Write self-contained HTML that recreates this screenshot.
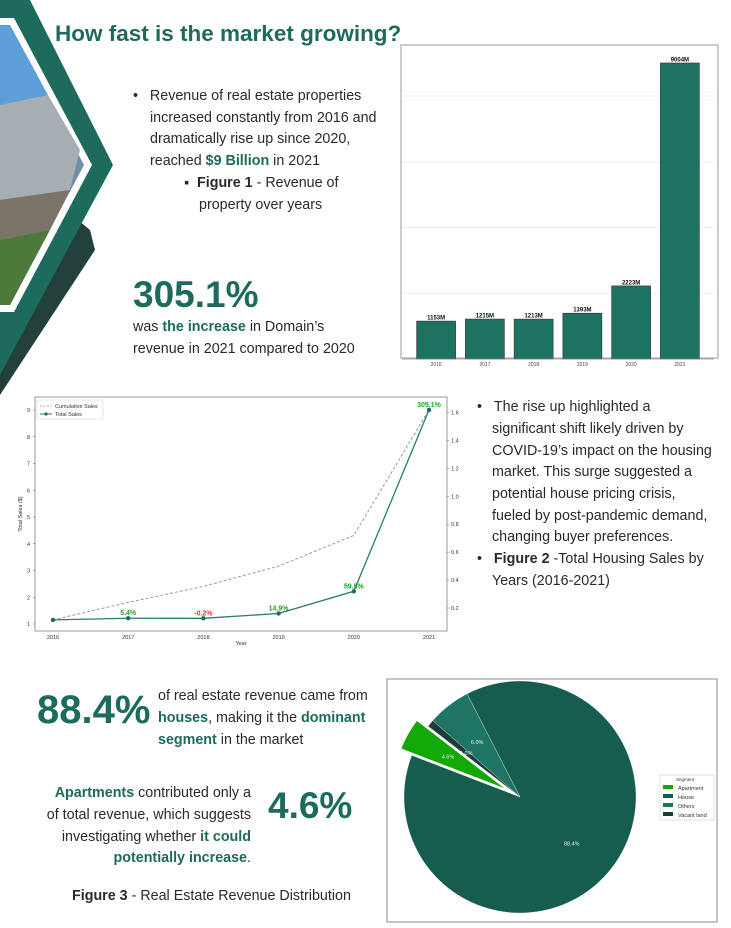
<!DOCTYPE html>
<html><head><meta charset="utf-8">
<style>
body{margin:0;width:731px;height:928px;background:#fff;position:relative;overflow:hidden;font-family:"Liberation Sans",sans-serif;color:#222}
.t{position:absolute;white-space:nowrap;font-size:14.3px;line-height:21.7px;color:#2a2a2a}
.g{color:#1d6b5c;font-weight:bold}
.big{position:absolute;color:#1d6b5c;font-weight:bold;white-space:nowrap}
svg{position:absolute;left:0;top:0}
</style></head><body>
<svg width="731" height="928">
  <polygon points="0,395 0,285 60,205 90,230 95,250" fill="#24403b"/>
  <polygon points="0,0 30,0 113,165 0,375" fill="#1d6b5c"/>
  <polygon points="0,18 14,18 92,165 14,312 0,312" fill="#fff"/>
  <polygon points="0,25 10,25 84,165 10,305 0,305" fill="#6d8fa8"/>
  <polygon points="0,25 10,25 48,95 0,105" fill="#5f9fd9"/>
  <polygon points="0,105 48,95 80,150 70,190 0,200" fill="#a6adb3"/>
  <polygon points="0,200 70,190 50,230 0,240" fill="#7b7468"/>
  <polygon points="0,240 50,230 10,305 0,305" fill="#4d7a3a"/>
</svg>
<div class="big" style="left:55px;top:21px;font-size:22.5px">How fast is the market growing?</div>

<div class="t" style="left:133px;top:86px">•&nbsp;&nbsp;&nbsp;Revenue of real estate properties</div>
<div class="t" style="left:150px;top:108px">increased constantly from 2016 and</div>
<div class="t" style="left:150px;top:129px">dramatically rise up since 2020,</div>
<div class="t" style="left:150px;top:151px">reached <span class="g">$9 Billion</span> in 2021</div>
<div class="t" style="left:184px;top:173px">▪&nbsp;&nbsp;<b>Figure 1</b> - Revenue of</div>
<div class="t" style="left:199px;top:195px">property over years</div>

<div class="big" style="left:133px;top:274px;font-size:37px">305.1%</div>
<div class="t" style="left:133px;top:317px">was <span class="g">the increase</span> in Domain’s</div>
<div class="t" style="left:133px;top:339px">revenue in 2021 compared to 2020</div>

<div class="t" style="left:477px;top:397px">•&nbsp;&nbsp;&nbsp;The rise up highlighted a</div>
<div class="t" style="left:492px;top:419px">significant shift likely driven by</div>
<div class="t" style="left:492px;top:441px">COVID-19’s impact on the housing</div>
<div class="t" style="left:492px;top:462px">market. This surge suggested a</div>
<div class="t" style="left:492px;top:484px">potential house pricing crisis,</div>
<div class="t" style="left:492px;top:506px">fueled by post-pandemic demand,</div>
<div class="t" style="left:492px;top:527px">changing buyer preferences.</div>
<div class="t" style="left:477px;top:549px">•&nbsp;&nbsp;&nbsp;<b>Figure 2</b> -Total Housing Sales by</div>
<div class="t" style="left:492px;top:571px">Years (2016-2021)</div>

<div class="big" style="left:37px;top:688px;font-size:40px">88.4%</div>
<div class="t" style="left:158px;top:686px">of real estate revenue came from</div>
<div class="t" style="left:158px;top:708px"><span class="g">houses</span>, making it the <span class="g">dominant</span></div>
<div class="t" style="left:158px;top:730px"><span class="g">segment</span> in the market</div>
<div class="t" style="left:20px;top:783px;width:231px;text-align:right"><span class="g">Apartments</span> contributed only a</div>
<div class="t" style="left:20px;top:805px;width:231px;text-align:right">of total revenue, which suggests</div>
<div class="t" style="left:20px;top:827px;width:231px;text-align:right">investigating whether <span class="g">it could</span></div>
<div class="t" style="left:20px;top:848px;width:231px;text-align:right"><span class="g">potentially increase</span>.</div>
<div class="big" style="left:268px;top:785px;font-size:37px">4.6%</div>
<div class="t" style="left:72px;top:886px"><b>Figure 3</b> - Real Estate Revenue Distribution</div>

<svg id="bar" width="731" height="928"></svg>
<svg id="line" width="731" height="928"></svg>
<svg id="pie" width="731" height="928"></svg>

<script>
const NS="http://www.w3.org/2000/svg";
function mk(p,tag,at,txt){const e=document.createElementNS(NS,tag);for(const k in at)e.setAttribute(k,at[k]);if(txt!==undefined)e.textContent=txt;p.appendChild(e);return e;}

// ---- bar chart data
const barYears=["2016","2017","2018","2019","2020","2021"];
const barValues=[1153,1215,1213,1393,2223,9004];
const barGrid=[2000,4000,6000,8000];

// ---- line chart data
const lineYears=["2016","2017","2018","2019","2020","2021"];
const totalSales=[1.153,1.215,1.213,1.393,2.223,9.004];
const cumulative=[0.115,0.24,0.355,0.5,0.72,1.62];
const pctLabels=["","5.4%","-0.2%","14.9%","59.5%","305.1%"];
const leftTicks=[1,2,3,4,5,6,7,8,9];
const rightTicks=[0.2,0.4,0.6,0.8,1.0,1.2,1.4,1.6];

// ---- pie data
const segNames=["Apartment","House","Others","Vacant land"];
const segValues=[4.6,88.4,6.0,1.0];
const segColors=["#12a806","#165c4f","#1f7563","#1f3d38"];

// bar chart
(function(){
  const s=document.getElementById('bar');
  mk(s,'rect',{x:401,y:45,width:317,height:313,fill:'#fff',stroke:'#bbb','stroke-width':1.5});
  const L=402,R=714,T=47,B=359,k=(B-63)/9004;
  const y=v=>B-v*k, step=(R-L)/6.4, x0=L+step*0.7;
  barGrid.forEach(g=>{const l=mk(s,'line',{x1:L,x2:R,y1:y(g),y2:y(g),stroke:'#eee','stroke-width':1});});
  barValues.forEach((v,i)=>{
    const cx=x0+i*step;
    const r=mk(s,'rect',{x:cx-19.5,y:y(v),width:39,height:B-y(v),fill:'#1e7261',stroke:'#333','stroke-width':0.6});
    
    
    const t=mk(s,'text',{x:cx,y:y(v)-1.5,'font-size':6,'font-weight':'bold','text-anchor':'middle',fill:'#111'},v+'M');
    
    
    const tk=mk(s,'text',{x:cx,y:B+7,'font-size':5,'text-anchor':'middle',fill:'#444'},barYears[i]);
    
    
  });
  mk(s,'line',{x1:L,x2:R,y1:B,y2:B,stroke:'#888','stroke-width':0.8});
})();

// line chart
(function(){
  const s=document.getElementById('line');
  const L=35,R=447,T=397,B=631;
  mk(s,'rect',{x:L,y:T,width:R-L,height:B-T,fill:'#fff',stroke:'#999','stroke-width':1});
  const x=i=>53+i*75.2, yl=v=>624-(v-1)*26.75, yr=v=>608-(v-0.2)*139.6;
  leftTicks.forEach(v=>{const t=mk(s,'text',{x:L-5,y:yl(v)+2,'font-size':5.5,'text-anchor':'end',fill:'#333'},v);mk(s,'line',{x1:L-2,x2:L,y1:yl(v),y2:yl(v),stroke:'#666','stroke-width':0.5});});
  rightTicks.forEach(v=>{const t=mk(s,'text',{x:R+4,y:yr(v)+2,'font-size':5.5,fill:'#333'},v.toFixed(1));mk(s,'line',{x1:R,x2:R+2,y1:yr(v),y2:yr(v),stroke:'#666','stroke-width':0.5});});
  lineYears.forEach((yv,i)=>{const t=mk(s,'text',{x:x(i),y:B+8,'font-size':5.5,'text-anchor':'middle',fill:'#333'},yv);});
  const xt=mk(s,'text',{x:241,y:B+14,'font-size':5.5,'text-anchor':'middle',fill:'#333'},'Year');
  const yt=mk(s,'text',{x:22,y:514,'font-size':5.5,'text-anchor':'middle',fill:'#333',transform:'rotate(-90 22 514)'},'Total Sales ($)');
  const cp=mk(s,'polyline',{points:cumulative.map((v,i)=>x(i)+','+yr(v)).join(' '),fill:'none',stroke:'#999','stroke-width':1,'stroke-dasharray':'3,2'});
  
  const tp=mk(s,'polyline',{points:totalSales.map((v,i)=>x(i)+','+yl(v)).join(' '),fill:'none',stroke:'#2a7d68','stroke-width':1.3});
  
  totalSales.forEach((v,i)=>{
    const c=mk(s,'circle',{cx:x(i),cy:yl(v),r:2.2,fill:'#1e6b5a'});
    
    if(pctLabels[i]){const t=mk(s,'text',{x:x(i),y:yl(v)-3,'font-size':7,'font-weight':'bold','text-anchor':'middle',fill:pctLabels[i][0]==='-'?'#f03030':'#22a022'},pctLabels[i]);
      }
  });
  const lg=mk(s,'rect',{x:37,y:400,width:66,height:19,fill:'#fff',stroke:'#ddd','stroke-width':0.6});
  mk(s,'line',{x1:40,x2:52,y1:406,y2:406,stroke:'#999','stroke-dasharray':'2,1.5','stroke-width':0.8});
  mk(s,'text',{x:55,y:408,'font-size':5.5,fill:'#333'},'Cumulative Sales');
  mk(s,'line',{x1:40,x2:52,y1:414,y2:414,stroke:'#2a7d68','stroke-width':1});
  mk(s,'circle',{cx:46,cy:414,r:1.6,fill:'#1e6b5a'});
  mk(s,'text',{x:55,y:416,'font-size':5.5,fill:'#333'},'Total Sales');
})();

// pie chart
(function(){
  const s=document.getElementById('pie');
  mk(s,'rect',{x:387,y:679,width:330,height:243,fill:'#fff',stroke:'#888','stroke-width':1});
  const cx=520,cy=797,r=116,total=segValues.reduce((a,b)=>a+b,0);
  let a=142.4;
  segValues.forEach((v,i)=>{
    const sweep=v/total*360, a1=a, a2=a+sweep, mid=(a1+a2)/2*Math.PI/180;
    const ex=i===0?13:0, ox=cx+ex*Math.cos(mid), oy=cy-ex*Math.sin(mid);
    const p=(ang)=>[ox+r*Math.cos(ang*Math.PI/180), oy-r*Math.sin(ang*Math.PI/180)];
    const [x1,y1]=p(a1),[x2,y2]=p(a2);
    const path=mk(s,'path',{d:`M${ox},${oy} L${x1},${y1} A${r},${r} 0 ${sweep>180?1:0} 0 ${x2},${y2} Z`,fill:segColors[i],stroke:'#fff','stroke-width':i===0?1.5:0.3});
    
    
    const lt=mk(s,'text',{x:ox+0.6*r*Math.cos(mid),y:oy-0.6*r*Math.sin(mid)+2,'font-size':5.5,'text-anchor':'middle',fill:'#e8efe9'},v.toFixed(1)+'%');
    
    a=a2;
  });
  const lg=mk(s,'rect',{x:660,y:775,width:54,height:45,fill:'#fff',stroke:'#ccc','stroke-width':0.6});
  
  mk(s,'text',{x:676,y:781,'font-size':4.5,fill:'#333'},'Segment');
  segNames.forEach((n,i)=>{
    mk(s,'rect',{x:663,y:785+i*9,width:10,height:4,fill:segColors[i]});
    const t=mk(s,'text',{x:678,y:790+i*9,'font-size':5.5,fill:'#333'},n);
    
  });
})();
</script>
</body></html>
